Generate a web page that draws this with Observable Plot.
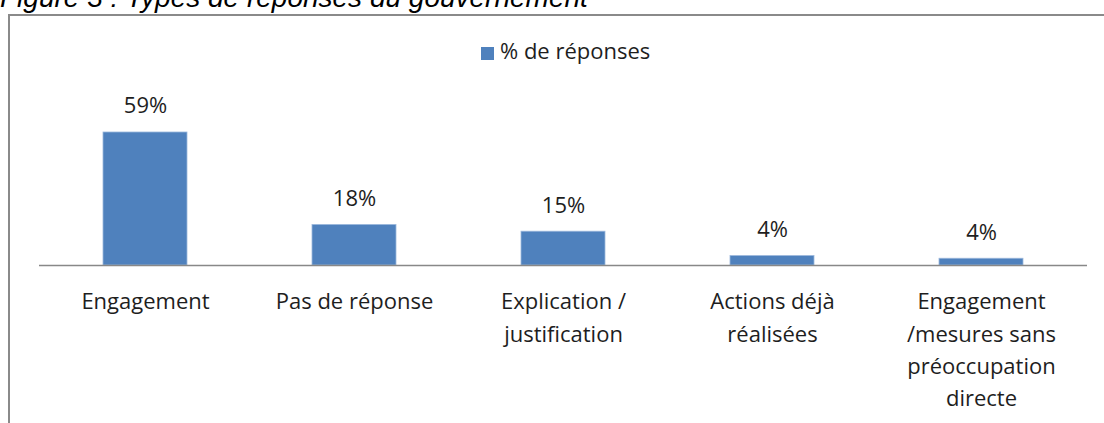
<!DOCTYPE html>
<html>
<head>
<meta charset="utf-8">
<script src="https://cdn.jsdelivr.net/npm/d3@7"></script>
<script src="https://cdn.jsdelivr.net/npm/@observablehq/plot@0.6"></script>
<style>
  html, body { margin: 0; padding: 0; background: #fff; }
  #wrap { position: relative; width: 1104px; height: 423px; overflow: hidden; }
  #title { position: absolute; left: 0; top: -16px; font-family: "Liberation Sans", Arial, sans-serif; font-style: italic; font-size: 28px; line-height: 28px; color: #000; white-space: nowrap; }
  #frame { position: absolute; left: 8px; top: 13.5px; width: 1200px; height: 500px; border-left: 2px solid #8a8a8a; border-top: 2px solid #8a8a8a; box-sizing: border-box; }
  #legend { position: absolute; left: 481px; top: 34.5px; font-family: "Open Sans", sans-serif; font-size: 22px; line-height: 30px; color: #1e1e1e; white-space: nowrap; }
  #legend .sw { display: inline-block; width: 13px; height: 13px; background: #4F81BD; margin-right: 6px; vertical-align: -1px; }
  #chart { position: absolute; left: 0; top: 0; }
</style>
</head>
<body>
<div id="wrap">
  <div id="frame"></div>
  <div id="title">Figure 3 : Types de réponses du gouvernement</div>
  <div id="legend"><span class="sw"></span>% de réponses</div>
  <div id="chart"></div>
</div>
<script>
const categories = [
  "Engagement",
  "Pas de réponse",
  "Explication /\njustification",
  "Actions déjà\nréalisées",
  "Engagement\n/mesures sans\npréoccupation\ndirecte"
];
const values = [59, 18, 15, 4.2, 3.0];
const valueLabels = ["59%", "18%", "15%", "4%", "4%"];
const seriesName = "% de réponses";

const data = categories.map((c, i) => ({category: c, value: values[i], label: valueLabels[i]}));

const chart = Plot.plot({
  width: 1104,
  height: 423,
  marginLeft: 39,
  marginRight: 17,
  marginTop: 107.2,
  marginBottom: 158,
  style: {background: "transparent", fontFamily: "'Open Sans', sans-serif"},
  x: {domain: categories, paddingInner: 0.6, paddingOuter: 0.3, axis: null},
  y: {domain: [0, 70], axis: null},
  marks: [
    Plot.barY(data, {x: "category", y: "value", fill: "#4F81BD", stroke: "#9cb8dc", strokeWidth: 0.8}),
    Plot.ruleY([0], {stroke: "#888888", strokeWidth: 1.5}),
    Plot.text(data, {x: "category", y: "value", text: "label", dy: -19, lineAnchor: "bottom", fontSize: 22, fill: "#1e1e1e"}),
    Plot.text(data, {x: "category", y: 0, text: "category", dy: 21, lineAnchor: "top", lineHeight: 1.47, fontSize: 22, fill: "#1e1e1e"})
  ]
});
document.getElementById("chart").appendChild(chart);
</script>
</body>
</html>
